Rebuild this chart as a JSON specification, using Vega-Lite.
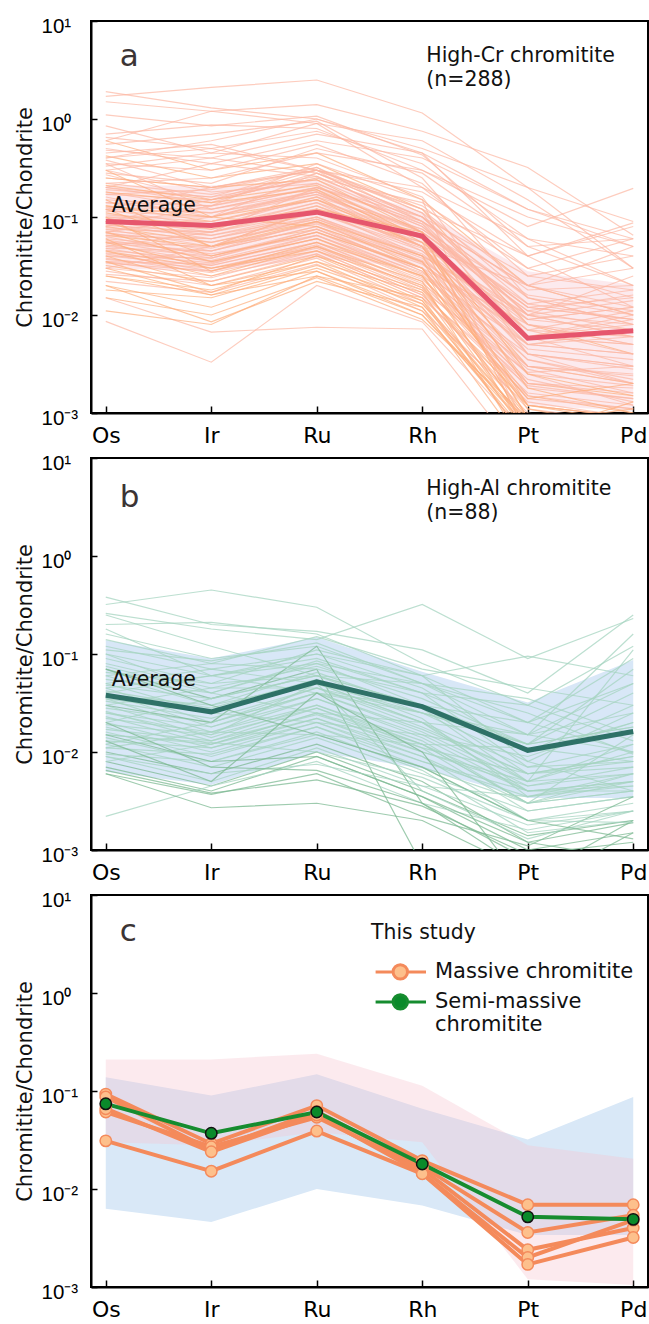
{
"$schema":"https://vega.github.io/schema/vega-lite/v6.json",
"background":"white",
"padding":{"left":13,"top":15,"right":0,"bottom":0},
"resolve":{"scale":{"color":"independent","stroke":"independent","fill":"independent"},"legend":{"color":"independent","stroke":"independent","fill":"independent"}},
"config":{
 "view":{"stroke":"#000","strokeWidth":2},
 "font":"DejaVu Sans",
 "concat":{"spacing":5},
 "axis":{"domainColor":"#000","domainWidth":2,"tickColor":"#000","tickWidth":1.5,"grid":false,"labelColor":"#000","titleColor":"#111","labelFlush":false,"labelOverlap":false},
 "axisX":{"labelFont":"DejaVu Sans","labelFontSize":22,"tickSize":-7,"labelPadding":19,"labelAngle":0,"labelBaseline":"top"},
 "axisY":{"labelFont":"Liberation Sans","labelFontSize":20.5,"tickSize":-6,"labelAlign":"left","labelPadding":56,"labelOffset":5.5,"labelBaseline":"middle","titleFont":"DejaVu Sans","titleFontSize":21,"titleFontWeight":"normal","titlePadding":6}
},
"datasets":{
 "hicr":[
{"id":1,"s":"A","Os":1.9,"Ir":1.3,"Ru":1.0,"Rh":0.45,"Pt":0.12,"Pd":0.06},
{"id":2,"s":"A","Os":1.7,"Ir":2.1,"Ru":2.5,"Rh":1.15,"Pt":0.2,"Pd":0.09},
{"id":3,"s":"A","Os":1.5,"Ir":1.2,"Ru":1.4,"Rh":0.75,"Pt":0.32,"Pd":0.065},
{"id":4,"s":"A","Os":1.1,"Ir":0.85,"Ru":1.07,"Rh":0.43,"Pt":0.05,"Pd":0.02},
{"id":5,"s":"A","Os":0.85,"Ir":0.45,"Ru":0.9,"Rh":0.2,"Pt":0.03,"Pd":0.015},
{"id":6,"s":"A","Os":0.7,"Ir":0.87,"Ru":0.8,"Rh":0.3,"Pt":0.08,"Pd":0.196},
{"id":7,"s":"A","Os":0.65,"Ir":0.5,"Ru":0.75,"Rh":0.35,"Pt":0.06,"Pd":0.04},
{"id":8,"s":"B","Os":0.6,"Ir":0.3,"Ru":0.45,"Rh":0.15,"Pt":0.02,"Pd":0.01},
{"id":9,"s":"A","Os":0.55,"Ir":0.7,"Ru":0.95,"Rh":0.25,"Pt":0.015,"Pd":0.008},
{"id":10,"s":"A","Os":0.5,"Ir":0.35,"Ru":0.6,"Rh":0.4,"Pt":0.12,"Pd":0.05},
{"id":11,"s":"A","Os":0.48,"Ir":0.4,"Ru":0.28,"Rh":0.1,"Pt":0.01,"Pd":0.006},
{"id":12,"s":"A","Os":0.45,"Ir":0.55,"Ru":0.3,"Rh":0.18,"Pt":0.04,"Pd":0.087},
{"id":13,"s":"B","Os":0.42,"Ir":0.25,"Ru":0.35,"Rh":0.12,"Pt":0.008,"Pd":0.004},
{"id":14,"s":"A","Os":0.4,"Ir":0.6,"Ru":1.0,"Rh":0.5,"Pt":0.2,"Pd":0.03},
{"id":15,"s":"A","Os":0.38,"Ir":0.2,"Ru":0.32,"Rh":0.09,"Pt":0.02,"Pd":0.012},
{"id":16,"s":"A","Os":0.35,"Ir":0.3,"Ru":0.55,"Rh":0.22,"Pt":0.025,"Pd":0.018},
{"id":17,"s":"A","Os":0.33,"Ir":0.45,"Ru":0.4,"Rh":0.16,"Pt":0.006,"Pd":0.003},
{"id":18,"s":"A","Os":0.3,"Ir":0.18,"Ru":0.22,"Rh":0.08,"Pt":0.012,"Pd":0.009},
{"id":19,"s":"A","Os":0.28,"Ir":0.22,"Ru":0.5,"Rh":0.28,"Pt":0.05,"Pd":0.06},
{"id":20,"s":"A","Os":0.27,"Ir":0.15,"Ru":0.3,"Rh":0.11,"Pt":0.004,"Pd":0.002},
{"id":21,"s":"A","Os":0.25,"Ir":0.2,"Ru":0.3,"Rh":0.12,"Pt":0.015,"Pd":0.01},
{"id":22,"s":"A","Os":0.22,"Ir":0.17,"Ru":0.26,"Rh":0.09,"Pt":0.008,"Pd":0.006},
{"id":23,"s":"A","Os":0.2,"Ir":0.14,"Ru":0.28,"Rh":0.1,"Pt":0.01,"Pd":0.008},
{"id":24,"s":"A","Os":0.19,"Ir":0.16,"Ru":0.24,"Rh":0.085,"Pt":0.006,"Pd":0.005},
{"id":25,"s":"A","Os":0.18,"Ir":0.12,"Ru":0.2,"Rh":0.07,"Pt":0.012,"Pd":0.015},
{"id":26,"s":"A","Os":0.17,"Ir":0.19,"Ru":0.3,"Rh":0.13,"Pt":0.02,"Pd":0.01},
{"id":27,"s":"A","Os":0.16,"Ir":0.1,"Ru":0.18,"Rh":0.06,"Pt":0.004,"Pd":0.003},
{"id":28,"s":"A","Os":0.15,"Ir":0.13,"Ru":0.22,"Rh":0.08,"Pt":0.009,"Pd":0.012},
{"id":29,"s":"A","Os":0.14,"Ir":0.11,"Ru":0.17,"Rh":0.065,"Pt":0.007,"Pd":0.004},
{"id":30,"s":"B","Os":0.13,"Ir":0.09,"Ru":0.16,"Rh":0.05,"Pt":0.003,"Pd":0.002},
{"id":31,"s":"A","Os":0.125,"Ir":0.12,"Ru":0.2,"Rh":0.09,"Pt":0.015,"Pd":0.008},
{"id":32,"s":"A","Os":0.12,"Ir":0.08,"Ru":0.14,"Rh":0.045,"Pt":0.005,"Pd":0.006},
{"id":33,"s":"A","Os":0.115,"Ir":0.1,"Ru":0.19,"Rh":0.07,"Pt":0.011,"Pd":0.007},
{"id":34,"s":"B","Os":0.11,"Ir":0.075,"Ru":0.13,"Rh":0.05,"Pt":0.002,"Pd":0.0015},
{"id":35,"s":"A","Os":0.105,"Ir":0.09,"Ru":0.15,"Rh":0.06,"Pt":0.006,"Pd":0.01},
{"id":36,"s":"A","Os":0.1,"Ir":0.085,"Ru":0.12,"Rh":0.04,"Pt":0.0035,"Pd":0.002},
{"id":37,"s":"A","Os":0.098,"Ir":0.07,"Ru":0.11,"Rh":0.055,"Pt":0.008,"Pd":0.005},
{"id":38,"s":"A","Os":0.095,"Ir":0.08,"Ru":0.16,"Rh":0.075,"Pt":0.012,"Pd":0.009},
{"id":39,"s":"A","Os":0.09,"Ir":0.065,"Ru":0.1,"Rh":0.035,"Pt":0.0025,"Pd":0.0012},
{"id":40,"s":"A","Os":0.088,"Ir":0.075,"Ru":0.14,"Rh":0.06,"Pt":0.005,"Pd":0.004},
{"id":41,"s":"A","Os":0.085,"Ir":0.06,"Ru":0.095,"Rh":0.04,"Pt":0.009,"Pd":0.012},
{"id":42,"s":"A","Os":0.082,"Ir":0.07,"Ru":0.12,"Rh":0.05,"Pt":0.004,"Pd":0.003},
{"id":43,"s":"B","Os":0.08,"Ir":0.055,"Ru":0.09,"Rh":0.03,"Pt":0.0015,"Pd":0.001},
{"id":44,"s":"A","Os":0.078,"Ir":0.065,"Ru":0.11,"Rh":0.045,"Pt":0.007,"Pd":0.006},
{"id":45,"s":"A","Os":0.075,"Ir":0.05,"Ru":0.085,"Rh":0.035,"Pt":0.003,"Pd":0.0025},
{"id":46,"s":"A","Os":0.072,"Ir":0.06,"Ru":0.1,"Rh":0.042,"Pt":0.006,"Pd":0.008},
{"id":47,"s":"A","Os":0.07,"Ir":0.045,"Ru":0.08,"Rh":0.028,"Pt":0.002,"Pd":0.0018},
{"id":48,"s":"A","Os":0.068,"Ir":0.055,"Ru":0.095,"Rh":0.038,"Pt":0.0045,"Pd":0.0035},
{"id":49,"s":"B","Os":0.065,"Ir":0.05,"Ru":0.075,"Rh":0.03,"Pt":0.0012,"Pd":0.0009},
{"id":50,"s":"A","Os":0.063,"Ir":0.04,"Ru":0.07,"Rh":0.026,"Pt":0.0028,"Pd":0.0016},
{"id":51,"s":"A","Os":0.06,"Ir":0.048,"Ru":0.088,"Rh":0.034,"Pt":0.005,"Pd":0.004},
{"id":52,"s":"A","Os":0.058,"Ir":0.042,"Ru":0.065,"Rh":0.024,"Pt":0.0018,"Pd":0.0014},
{"id":53,"s":"A","Os":0.056,"Ir":0.038,"Ru":0.07,"Rh":0.03,"Pt":0.0035,"Pd":0.0022},
{"id":54,"s":"A","Os":0.054,"Ir":0.045,"Ru":0.08,"Rh":0.033,"Pt":0.006,"Pd":0.005},
{"id":55,"s":"A","Os":0.052,"Ir":0.035,"Ru":0.06,"Rh":0.022,"Pt":0.0014,"Pd":0.0011},
{"id":56,"s":"A","Os":0.05,"Ir":0.04,"Ru":0.075,"Rh":0.028,"Pt":0.003,"Pd":0.002},
{"id":57,"s":"A","Os":0.048,"Ir":0.032,"Ru":0.055,"Rh":0.02,"Pt":0.0022,"Pd":0.0013},
{"id":58,"s":"A","Os":0.046,"Ir":0.036,"Ru":0.065,"Rh":0.025,"Pt":0.004,"Pd":0.0028},
{"id":59,"s":"B","Os":0.045,"Ir":0.03,"Ru":0.05,"Rh":0.019,"Pt":0.0009,"Pd":0.0007},
{"id":60,"s":"A","Os":0.043,"Ir":0.034,"Ru":0.06,"Rh":0.023,"Pt":0.0025,"Pd":0.0019},
{"id":61,"s":"A","Os":0.042,"Ir":0.028,"Ru":0.048,"Rh":0.017,"Pt":0.0016,"Pd":0.0012},
{"id":62,"s":"A","Os":0.04,"Ir":0.032,"Ru":0.055,"Rh":0.021,"Pt":0.003,"Pd":0.0024},
{"id":63,"s":"A","Os":0.038,"Ir":0.027,"Ru":0.045,"Rh":0.016,"Pt":0.0011,"Pd":0.0008},
{"id":64,"s":"A","Os":0.037,"Ir":0.03,"Ru":0.052,"Rh":0.019,"Pt":0.002,"Pd":0.0016},
{"id":65,"s":"A","Os":0.035,"Ir":0.025,"Ru":0.042,"Rh":0.015,"Pt":0.0013,"Pd":0.0009},
{"id":66,"s":"A","Os":0.034,"Ir":0.028,"Ru":0.05,"Rh":0.018,"Pt":0.0026,"Pd":0.003},
{"id":67,"s":"B","Os":0.032,"Ir":0.022,"Ru":0.04,"Rh":0.014,"Pt":0.0008,"Pd":0.0006},
{"id":68,"s":"A","Os":0.03,"Ir":0.024,"Ru":0.045,"Rh":0.016,"Pt":0.0019,"Pd":0.0014},
{"id":69,"s":"A","Os":0.028,"Ir":0.02,"Ru":0.038,"Rh":0.013,"Pt":0.001,"Pd":0.0007},
{"id":70,"s":"A","Os":0.026,"Ir":0.022,"Ru":0.042,"Rh":0.015,"Pt":0.0015,"Pd":0.0011},
{"id":71,"s":"B","Os":0.025,"Ir":0.018,"Ru":0.035,"Rh":0.012,"Pt":0.0007,"Pd":0.0005},
{"id":72,"s":"A","Os":0.022,"Ir":0.017,"Ru":0.033,"Rh":0.011,"Pt":0.0012,"Pd":0.0009},
{"id":73,"s":"A","Os":0.2,"Ir":0.16,"Ru":0.32,"Rh":0.11,"Pt":0.018,"Pd":0.02},
{"id":74,"s":"A","Os":0.17,"Ir":0.15,"Ru":0.25,"Rh":0.1,"Pt":0.013,"Pd":0.018},
{"id":75,"s":"A","Os":0.14,"Ir":0.13,"Ru":0.2,"Rh":0.085,"Pt":0.01,"Pd":0.014},
{"id":76,"s":"A","Os":0.12,"Ir":0.11,"Ru":0.18,"Rh":0.075,"Pt":0.016,"Pd":0.011},
{"id":77,"s":"A","Os":0.1,"Ir":0.1,"Ru":0.17,"Rh":0.07,"Pt":0.013,"Pd":0.009},
{"id":78,"s":"A","Os":0.09,"Ir":0.09,"Ru":0.15,"Rh":0.065,"Pt":0.011,"Pd":0.016},
{"id":79,"s":"A","Os":0.075,"Ir":0.07,"Ru":0.13,"Rh":0.055,"Pt":0.009,"Pd":0.007},
{"id":80,"s":"A","Os":0.065,"Ir":0.06,"Ru":0.11,"Rh":0.048,"Pt":0.007,"Pd":0.011},
{"id":81,"s":"A","Os":0.055,"Ir":0.05,"Ru":0.1,"Rh":0.04,"Pt":0.01,"Pd":0.006},
{"id":82,"s":"A","Os":0.048,"Ir":0.045,"Ru":0.09,"Rh":0.036,"Pt":0.006,"Pd":0.009},
{"id":83,"s":"A","Os":0.04,"Ir":0.038,"Ru":0.075,"Rh":0.03,"Pt":0.008,"Pd":0.005},
{"id":84,"s":"A","Os":0.035,"Ir":0.033,"Ru":0.065,"Rh":0.027,"Pt":0.005,"Pd":0.007},
{"id":85,"s":"B","Os":0.25,"Ir":0.2,"Ru":0.24,"Rh":0.07,"Pt":0.0025,"Pd":0.0015},
{"id":86,"s":"B","Os":0.21,"Ir":0.15,"Ru":0.21,"Rh":0.06,"Pt":0.0018,"Pd":0.001},
{"id":87,"s":"B","Os":0.18,"Ir":0.14,"Ru":0.19,"Rh":0.055,"Pt":0.0012,"Pd":0.0008},
{"id":88,"s":"B","Os":0.13,"Ir":0.1,"Ru":0.15,"Rh":0.05,"Pt":0.0009,"Pd":0.0006},
{"id":89,"s":"B","Os":0.03,"Ir":0.016,"Ru":0.025,"Rh":0.015,"Pt":0.0005,"Pd":0.0004},
{"id":90,"s":"B","Os":0.02,"Ir":0.0085,"Ru":0.022,"Rh":0.012,"Pt":0.0004,"Pd":0.0006},
{"id":91,"s":"A","Os":0.015,"Ir":0.0067,"Ru":0.0075,"Rh":0.0072,"Pt":0.0003,"Pd":0.0002},
{"id":92,"s":"A","Os":0.0086,"Ir":0.0033,"Ru":0.02,"Rh":0.0085,"Pt":0.0006,"Pd":0.0008},
{"id":93,"s":"B","Os":0.011,"Ir":0.008,"Ru":0.025,"Rh":0.01,"Pt":0.0007,"Pd":0.0005},
{"id":94,"s":"B","Os":0.018,"Ir":0.015,"Ru":0.03,"Rh":0.013,"Pt":0.0008,"Pd":0.0009},
{"id":95,"s":"B","Os":0.025,"Ir":0.016,"Ru":0.032,"Rh":0.014,"Pt":0.0005,"Pd":0.0006},
{"id":96,"s":"B","Os":0.04,"Ir":0.02,"Ru":0.035,"Rh":0.017,"Pt":0.0006,"Pd":0.0005},
{"id":97,"s":"B","Os":0.055,"Ir":0.03,"Ru":0.045,"Rh":0.02,"Pt":0.0007,"Pd":0.0004},
{"id":98,"s":"B","Os":0.07,"Ir":0.035,"Ru":0.06,"Rh":0.025,"Pt":0.0008,"Pd":0.0007},
{"id":99,"s":"B","Os":0.09,"Ir":0.04,"Ru":0.07,"Rh":0.03,"Pt":0.0006,"Pd":0.0008},
{"id":100,"s":"B","Os":0.12,"Ir":0.05,"Ru":0.09,"Rh":0.04,"Pt":0.0009,"Pd":0.0006},
{"id":101,"s":"B","Os":0.035,"Ir":0.017,"Ru":0.04,"Rh":0.018,"Pt":0.0012,"Pd":0.0009},
{"id":102,"s":"B","Os":0.045,"Ir":0.025,"Ru":0.05,"Rh":0.022,"Pt":0.0004,"Pd":0.0003},
{"id":103,"s":"B","Os":0.06,"Ir":0.02,"Ru":0.028,"Rh":0.01,"Pt":0.0008,"Pd":0.0011},
{"id":104,"s":"B","Os":0.015,"Ir":0.01,"Ru":0.024,"Rh":0.009,"Pt":0.0009,"Pd":0.0005},
{"id":105,"s":"B","Os":0.02,"Ir":0.012,"Ru":0.028,"Rh":0.011,"Pt":0.0006,"Pd":0.0004},
{"id":106,"s":"B","Os":0.1,"Ir":0.028,"Ru":0.055,"Rh":0.025,"Pt":0.0014,"Pd":0.002},
{"id":107,"s":"B","Os":0.3,"Ir":0.1,"Ru":0.08,"Rh":0.035,"Pt":0.0011,"Pd":0.0007},
{"id":108,"s":"A","Os":0.4,"Ir":0.5,"Ru":0.3,"Rh":0.07,"Pt":0.0007,"Pd":0.0004},
{"id":109,"s":"A","Os":0.08,"Ir":0.13,"Ru":0.35,"Rh":0.15,"Pt":0.0005,"Pd":0.0009},
{"id":110,"s":"B","Os":0.15,"Ir":0.05,"Ru":0.12,"Rh":0.07,"Pt":0.0006,"Pd":0.0013},
{"id":111,"s":"A","Os":0.22,"Ir":0.25,"Ru":0.45,"Rh":0.3,"Pt":0.1,"Pd":0.05},
{"id":112,"s":"A","Os":0.3,"Ir":0.4,"Ru":0.7,"Rh":0.45,"Pt":0.04,"Pd":0.08},
{"id":113,"s":"A","Os":0.12,"Ir":0.2,"Ru":0.3,"Rh":0.2,"Pt":0.06,"Pd":0.02},
{"id":114,"s":"A","Os":0.09,"Ir":0.15,"Ru":0.25,"Rh":0.14,"Pt":0.03,"Pd":0.06},
{"id":115,"s":"A","Os":0.6,"Ir":1.2,"Ru":0.9,"Rh":0.6,"Pt":0.15,"Pd":0.03},
{"id":116,"s":"A","Os":0.05,"Ir":0.07,"Ru":0.2,"Rh":0.1,"Pt":0.025,"Pd":0.04},
{"id":117,"s":"A","Os":0.07,"Ir":0.1,"Ru":0.28,"Rh":0.12,"Pt":0.04,"Pd":0.012},
{"id":118,"s":"A","Os":0.03,"Ir":0.05,"Ru":0.12,"Rh":0.05,"Pt":0.02,"Pd":0.03},
{"id":119,"s":"A","Os":0.2,"Ir":0.35,"Ru":0.26,"Rh":0.09,"Pt":0.02,"Pd":0.05},
{"id":120,"s":"A","Os":0.35,"Ir":0.12,"Ru":0.18,"Rh":0.05,"Pt":0.01,"Pd":0.025}
 ],
 "hial":[
{"id":1,"s":"A","Os":0.38,"Ir":0.2,"Ru":0.17,"Rh":0.11,"Pt":0.04,"Pd":0.25},
{"id":2,"s":"A","Os":0.32,"Ir":0.45,"Ru":0.3,"Rh":0.08,"Pt":0.03,"Pd":0.12},
{"id":3,"s":"A","Os":0.26,"Ir":0.18,"Ru":0.14,"Rh":0.32,"Pt":0.09,"Pd":0.23},
{"id":4,"s":"A","Os":0.2,"Ir":0.21,"Ru":0.16,"Rh":0.06,"Pt":0.02,"Pd":0.05},
{"id":5,"s":"A","Os":0.16,"Ir":0.09,"Ru":0.12,"Rh":0.05,"Pt":0.015,"Pd":0.16},
{"id":6,"s":"A","Os":0.14,"Ir":0.08,"Ru":0.15,"Rh":0.07,"Pt":0.045,"Pd":0.03},
{"id":7,"s":"A","Os":0.12,"Ir":0.07,"Ru":0.1,"Rh":0.045,"Pt":0.01,"Pd":0.02},
{"id":8,"s":"A","Os":0.11,"Ir":0.085,"Ru":0.13,"Rh":0.05,"Pt":0.02,"Pd":0.09},
{"id":9,"s":"A","Os":0.1,"Ir":0.06,"Ru":0.09,"Rh":0.04,"Pt":0.007,"Pd":0.012},
{"id":10,"s":"A","Os":0.09,"Ir":0.05,"Ru":0.11,"Rh":0.06,"Pt":0.095,"Pd":0.06},
{"id":11,"s":"A","Os":0.08,"Ir":0.045,"Ru":0.075,"Rh":0.035,"Pt":0.012,"Pd":0.04},
{"id":12,"s":"A","Os":0.075,"Ir":0.04,"Ru":0.08,"Rh":0.03,"Pt":0.006,"Pd":0.008},
{"id":13,"s":"B","Os":0.07,"Ir":0.035,"Ru":0.07,"Rh":0.0007,"Pt":0.0005,"Pd":0.002},
{"id":14,"s":"A","Os":0.065,"Ir":0.05,"Ru":0.06,"Rh":0.025,"Pt":0.008,"Pd":0.025},
{"id":15,"s":"A","Os":0.06,"Ir":0.03,"Ru":0.065,"Rh":0.028,"Pt":0.005,"Pd":0.006},
{"id":16,"s":"A","Os":0.055,"Ir":0.04,"Ru":0.085,"Rh":0.04,"Pt":0.015,"Pd":0.01},
{"id":17,"s":"A","Os":0.05,"Ir":0.025,"Ru":0.05,"Rh":0.02,"Pt":0.004,"Pd":0.0045},
{"id":18,"s":"A","Os":0.048,"Ir":0.035,"Ru":0.06,"Rh":0.03,"Pt":0.01,"Pd":0.03},
{"id":19,"s":"A","Os":0.045,"Ir":0.02,"Ru":0.045,"Rh":0.018,"Pt":0.006,"Pd":0.009},
{"id":20,"s":"A","Os":0.042,"Ir":0.028,"Ru":0.055,"Rh":0.022,"Pt":0.0035,"Pd":0.005},
{"id":21,"s":"A","Os":0.04,"Ir":0.018,"Ru":0.04,"Rh":0.016,"Pt":0.005,"Pd":0.012},
{"id":22,"s":"A","Os":0.038,"Ir":0.03,"Ru":0.05,"Rh":0.025,"Pt":0.012,"Pd":0.018},
{"id":23,"s":"A","Os":0.035,"Ir":0.016,"Ru":0.035,"Rh":0.014,"Pt":0.004,"Pd":0.004},
{"id":24,"s":"A","Os":0.033,"Ir":0.022,"Ru":0.045,"Rh":0.02,"Pt":0.007,"Pd":0.008},
{"id":25,"s":"A","Os":0.03,"Ir":0.014,"Ru":0.03,"Rh":0.012,"Pt":0.003,"Pd":0.005},
{"id":26,"s":"A","Os":0.028,"Ir":0.02,"Ru":0.04,"Rh":0.017,"Pt":0.006,"Pd":0.007},
{"id":27,"s":"A","Os":0.026,"Ir":0.013,"Ru":0.028,"Rh":0.011,"Pt":0.0025,"Pd":0.0035},
{"id":28,"s":"A","Os":0.025,"Ir":0.018,"Ru":0.035,"Rh":0.015,"Pt":0.0045,"Pd":0.006},
{"id":29,"s":"A","Os":0.023,"Ir":0.012,"Ru":0.025,"Rh":0.01,"Pt":0.005,"Pd":0.01},
{"id":30,"s":"A","Os":0.022,"Ir":0.016,"Ru":0.03,"Rh":0.013,"Pt":0.003,"Pd":0.004},
{"id":31,"s":"A","Os":0.02,"Ir":0.011,"Ru":0.022,"Rh":0.009,"Pt":0.002,"Pd":0.003},
{"id":32,"s":"A","Os":0.019,"Ir":0.015,"Ru":0.028,"Rh":0.012,"Pt":0.004,"Pd":0.005},
{"id":33,"s":"A","Os":0.018,"Ir":0.01,"Ru":0.02,"Rh":0.008,"Pt":0.0035,"Pd":0.006},
{"id":34,"s":"A","Os":0.017,"Ir":0.013,"Ru":0.024,"Rh":0.011,"Pt":0.006,"Pd":0.009},
{"id":35,"s":"A","Os":0.016,"Ir":0.009,"Ru":0.018,"Rh":0.007,"Pt":0.002,"Pd":0.0025},
{"id":36,"s":"A","Os":0.015,"Ir":0.012,"Ru":0.022,"Rh":0.01,"Pt":0.0045,"Pd":0.007},
{"id":37,"s":"A","Os":0.014,"Ir":0.008,"Ru":0.016,"Rh":0.0065,"Pt":0.0015,"Pd":0.002},
{"id":38,"s":"A","Os":0.013,"Ir":0.011,"Ru":0.02,"Rh":0.009,"Pt":0.003,"Pd":0.004},
{"id":39,"s":"A","Os":0.012,"Ir":0.007,"Ru":0.014,"Rh":0.006,"Pt":0.0025,"Pd":0.0035},
{"id":40,"s":"A","Os":0.011,"Ir":0.0095,"Ru":0.018,"Rh":0.008,"Pt":0.004,"Pd":0.005},
{"id":41,"s":"B","Os":0.01,"Ir":0.006,"Ru":0.012,"Rh":0.005,"Pt":0.0012,"Pd":0.0019},
{"id":42,"s":"A","Os":0.0095,"Ir":0.008,"Ru":0.015,"Rh":0.007,"Pt":0.003,"Pd":0.006},
{"id":43,"s":"A","Os":0.009,"Ir":0.005,"Ru":0.011,"Rh":0.0045,"Pt":0.0018,"Pd":0.0025},
{"id":44,"s":"B","Os":0.008,"Ir":0.0045,"Ru":0.01,"Rh":0.004,"Pt":0.0014,"Pd":0.002},
{"id":45,"s":"B","Os":0.007,"Ir":0.004,"Ru":0.009,"Rh":0.0035,"Pt":0.001,"Pd":0.0015},
{"id":46,"s":"B","Os":0.0065,"Ir":0.0038,"Ru":0.0052,"Rh":0.0028,"Pt":0.0009,"Pd":0.0012},
{"id":47,"s":"B","Os":0.006,"Ir":0.0037,"Ru":0.006,"Rh":0.0022,"Pt":0.0011,"Pd":0.0035},
{"id":48,"s":"A","Os":0.0022,"Ir":0.0045,"Ru":0.008,"Rh":0.003,"Pt":0.0016,"Pd":0.0025},
{"id":49,"s":"B","Os":0.006,"Ir":0.0027,"Ru":0.003,"Rh":0.002,"Pt":0.0006,"Pd":0.0004},
{"id":50,"s":"B","Os":0.03,"Ir":0.02,"Ru":0.12,"Rh":0.003,"Pt":0.0008,"Pd":0.0005},
{"id":51,"s":"A","Os":0.025,"Ir":0.015,"Ru":0.05,"Rh":0.004,"Pt":0.0013,"Pd":0.0025},
{"id":52,"s":"A","Os":0.015,"Ir":0.0125,"Ru":0.01,"Rh":0.0055,"Pt":0.002,"Pd":0.0019},
{"id":53,"s":"A","Os":0.04,"Ir":0.06,"Ru":0.08,"Rh":0.05,"Pt":0.025,"Pd":0.0095},
{"id":54,"s":"A","Os":0.06,"Ir":0.08,"Ru":0.07,"Rh":0.04,"Pt":0.03,"Pd":0.013},
{"id":55,"s":"A","Os":0.012,"Ir":0.02,"Ru":0.04,"Rh":0.03,"Pt":0.02,"Pd":0.01},
{"id":56,"s":"A","Os":0.02,"Ir":0.035,"Ru":0.06,"Rh":0.05,"Pt":0.035,"Pd":0.015},
{"id":57,"s":"A","Os":0.05,"Ir":0.07,"Ru":0.05,"Rh":0.02,"Pt":0.005,"Pd":0.11},
{"id":58,"s":"A","Os":0.03,"Ir":0.045,"Ru":0.045,"Rh":0.025,"Pt":0.012,"Pd":0.07},
{"id":59,"s":"A","Os":0.008,"Ir":0.012,"Ru":0.025,"Rh":0.02,"Pt":0.015,"Pd":0.05},
{"id":60,"s":"B","Os":0.07,"Ir":0.03,"Ru":0.015,"Rh":0.007,"Pt":0.002,"Pd":0.0013},
{"id":61,"s":"A","Os":0.1,"Ir":0.04,"Ru":0.025,"Rh":0.012,"Pt":0.003,"Pd":0.015},
{"id":62,"s":"B","Os":0.015,"Ir":0.008,"Ru":0.009,"Rh":0.0035,"Pt":0.0012,"Pd":0.0008},
{"id":63,"s":"A","Os":0.045,"Ir":0.06,"Ru":0.1,"Rh":0.06,"Pt":0.008,"Pd":0.004},
{"id":64,"s":"A","Os":0.035,"Ir":0.025,"Ru":0.02,"Rh":0.015,"Pt":0.009,"Pd":0.02},
{"id":65,"s":"A","Os":0.25,"Ir":0.12,"Ru":0.06,"Rh":0.03,"Pt":0.012,"Pd":0.018},
{"id":66,"s":"A","Os":0.18,"Ir":0.06,"Ru":0.04,"Rh":0.025,"Pt":0.015,"Pd":0.025},
{"id":67,"s":"A","Os":0.011,"Ir":0.016,"Ru":0.015,"Rh":0.012,"Pt":0.011,"Pd":0.008},
{"id":68,"s":"A","Os":0.009,"Ir":0.006,"Ru":0.0075,"Rh":0.0045,"Pt":0.0035,"Pd":0.0045},
{"id":69,"s":"B","Os":0.02,"Ir":0.007,"Ru":0.0065,"Rh":0.003,"Pt":0.0006,"Pd":0.0009},
{"id":70,"s":"B","Os":0.013,"Ir":0.005,"Ru":0.04,"Rh":0.01,"Pt":0.0004,"Pd":0.0015}
 ],
 "avg":[
{"p":"a","el":"Os","v":0.09},{"p":"a","el":"Ir","v":0.082},{"p":"a","el":"Ru","v":0.112},{"p":"a","el":"Rh","v":0.064},{"p":"a","el":"Pt","v":0.0058},{"p":"a","el":"Pd","v":0.0069},
{"p":"b","el":"Os","v":0.038},{"p":"b","el":"Ir","v":0.0257},{"p":"b","el":"Ru","v":0.052},{"p":"b","el":"Rh","v":0.029},{"p":"b","el":"Pt","v":0.0104},{"p":"b","el":"Pd","v":0.0162}
 ],
 "bands":[
{"b":"High-Cr","el":"Os","lo":0.03,"hi":0.21},{"b":"High-Cr","el":"Ir","lo":0.028,"hi":0.21},{"b":"High-Cr","el":"Ru","lo":0.038,"hi":0.24},{"b":"High-Cr","el":"Rh","lo":0.03,"hi":0.113},{"b":"High-Cr","el":"Pt","lo":0.0012,"hi":0.028},{"b":"High-Cr","el":"Pd","lo":0.00105,"hi":0.0203},
{"b":"High-Al","el":"Os","lo":0.0063,"hi":0.138},{"b":"High-Al","el":"Ir","lo":0.0046,"hi":0.09},{"b":"High-Al","el":"Ru","lo":0.01,"hi":0.148},{"b":"High-Al","el":"Rh","lo":0.0068,"hi":0.066},{"b":"High-Al","el":"Pt","lo":0.0034,"hi":0.032},{"b":"High-Al","el":"Pd","lo":0.0034,"hi":0.087}
 ],
 "study":[
{"id":"M1","type":"Massive chromitite","Os":0.093,"Ir":0.029,"Ru":0.071,"Rh":0.0195,"Pt":0.0069,"Pd":0.0069},
{"id":"M2","type":"Massive chromitite","Os":0.087,"Ir":0.025,"Ru":0.062,"Rh":0.017,"Pt":0.0036,"Pd":0.0054},
{"id":"M3","type":"Massive chromitite","Os":0.061,"Ir":0.027,"Ru":0.054,"Rh":0.016,"Pt":0.0024,"Pd":0.004},
{"id":"M4","type":"Massive chromitite","Os":0.066,"Ir":0.024,"Ru":0.057,"Rh":0.0145,"Pt":0.002,"Pd":0.0048},
{"id":"M5","type":"Massive chromitite","Os":0.031,"Ir":0.0152,"Ru":0.039,"Rh":0.0143,"Pt":0.0017,"Pd":0.0032},
{"id":"S1","type":"Semi-massive chromitite","Os":0.074,"Ir":0.037,"Ru":0.061,"Rh":0.018,"Pt":0.0052,"Pd":0.0049}
 ],
 "one":[{}]
},
"vconcat":[
 {
  "width":557,"height":392,
  "layer":[
   {"data":{"name":"bands"},"transform":[{"filter":{"field":"b","equal":"High-Cr"}}],
    "mark":{"type":"area","color":"#f7c4cf","opacity":0.35},
    "encoding":{"x":{"field":"el","type":"ordinal","sort":["Os","Ir","Ru","Rh","Pt","Pd"],"scale":{"type":"point","domain":["Os","Ir","Ru","Rh","Pt","Pd"],"padding":0.14},"axis":{"title":null}},
     "y":{"field":"hi","type":"quantitative","scale":{"type":"log","domain":[0.001,10]},"axis":{"title":"Chromitite/Chondrite","values":[0.001,0.01,0.1,1,10],"labelExpr":"datum.value > 5 ? '10¹' : datum.value > 0.5 ? '10⁰' : datum.value > 0.05 ? '10⁻¹' : datum.value > 0.005 ? '10⁻²' : '10⁻³'"}},"y2":{"field":"lo"}}},
   {"data":{"name":"hicr"},"transform":[{"fold":["Os","Ir","Ru","Rh","Pt","Pd"],"as":["el","v"]}],
    "mark":{"type":"line","strokeWidth":1.2,"opacity":0.7,"clip":true},
    "encoding":{"x":{"field":"el","type":"ordinal","sort":["Os","Ir","Ru","Rh","Pt","Pd"]},
     "y":{"field":"v","type":"quantitative"},
     "detail":{"field":"id"},
     "color":{"field":"s","type":"nominal","scale":{"domain":["A","B"],"range":["#fcb6a2","#fdae7c"]},"legend":null}}},
   {"data":{"name":"avg"},"transform":[{"filter":{"field":"p","equal":"a"}}],
    "mark":{"type":"line","color":"#e6566d","strokeWidth":5},
    "encoding":{"x":{"field":"el","type":"ordinal","sort":["Os","Ir","Ru","Rh","Pt","Pd"]},"y":{"field":"v","type":"quantitative"}}},
   {"data":{"name":"one"},"mark":{"type":"text","text":"a","fontSize":31,"color":"#3b3434","align":"left","baseline":"alphabetic","dx":14},
    "encoding":{"x":{"datum":"Os","type":"ordinal"},"y":{"datum":3.46,"type":"quantitative"}}},
   {"data":{"name":"one"},"mark":{"type":"text","text":["High-Cr chromitite","(n=288)"],"fontSize":20.5,"lineHeight":23.5,"color":"#111","align":"left","baseline":"alphabetic","dx":4},
    "encoding":{"x":{"datum":"Rh","type":"ordinal"},"y":{"datum":3.8,"type":"quantitative"}}},
   {"data":{"name":"one"},"mark":{"type":"text","text":"Average","fontSize":20.5,"color":"#111","align":"left","baseline":"alphabetic","dx":6},
    "encoding":{"x":{"datum":"Os","type":"ordinal"},"y":{"datum":0.1135,"type":"quantitative"}}}
  ]
 },
 {
  "width":557,"height":392,
  "layer":[
   {"data":{"name":"bands"},"transform":[{"filter":{"field":"b","equal":"High-Al"}}],
    "mark":{"type":"area","color":"#d8e7f7","opacity":1},
    "encoding":{"x":{"field":"el","type":"ordinal","sort":["Os","Ir","Ru","Rh","Pt","Pd"],"scale":{"type":"point","domain":["Os","Ir","Ru","Rh","Pt","Pd"],"padding":0.14},"axis":{"title":null}},
     "y":{"field":"hi","type":"quantitative","scale":{"type":"log","domain":[0.001,10]},"axis":{"title":"Chromitite/Chondrite","values":[0.001,0.01,0.1,1,10],"labelExpr":"datum.value > 5 ? '10¹' : datum.value > 0.5 ? '10⁰' : datum.value > 0.05 ? '10⁻¹' : datum.value > 0.005 ? '10⁻²' : '10⁻³'"}},"y2":{"field":"lo"}}},
   {"data":{"name":"hial"},"transform":[{"fold":["Os","Ir","Ru","Rh","Pt","Pd"],"as":["el","v"]}],
    "mark":{"type":"line","strokeWidth":1.2,"opacity":0.75,"clip":true},
    "encoding":{"x":{"field":"el","type":"ordinal","sort":["Os","Ir","Ru","Rh","Pt","Pd"]},
     "y":{"field":"v","type":"quantitative"},
     "detail":{"field":"id"},
     "color":{"field":"s","type":"nominal","scale":{"domain":["A","B"],"range":["#a5d4c0","#7dba93"]},"legend":null}}},
   {"data":{"name":"avg"},"transform":[{"filter":{"field":"p","equal":"b"}}],
    "mark":{"type":"line","color":"#2e7167","strokeWidth":5},
    "encoding":{"x":{"field":"el","type":"ordinal","sort":["Os","Ir","Ru","Rh","Pt","Pd"]},"y":{"field":"v","type":"quantitative"}}},
   {"data":{"name":"one"},"mark":{"type":"text","text":"b","fontSize":31,"color":"#3b3434","align":"left","baseline":"alphabetic","dx":14},
    "encoding":{"x":{"datum":"Os","type":"ordinal"},"y":{"datum":3.15,"type":"quantitative"}}},
   {"data":{"name":"one"},"mark":{"type":"text","text":["High-Al chromitite","(n=88)"],"fontSize":20.5,"lineHeight":24,"color":"#111","align":"left","baseline":"alphabetic","dx":4},
    "encoding":{"x":{"datum":"Rh","type":"ordinal"},"y":{"datum":4.23,"type":"quantitative"}}},
   {"data":{"name":"one"},"mark":{"type":"text","text":"Average","fontSize":20.5,"color":"#111","align":"left","baseline":"alphabetic","dx":6},
    "encoding":{"x":{"datum":"Os","type":"ordinal"},"y":{"datum":0.0473,"type":"quantitative"}}}
  ]
 },
 {
  "width":557,"height":392,
  "layer":[
   {"data":{"name":"bands"},"transform":[{"filter":{"field":"b","equal":"High-Al"}}],
    "mark":{"type":"area","color":"#d9e8f7","opacity":1},
    "encoding":{"x":{"field":"el","type":"ordinal","sort":["Os","Ir","Ru","Rh","Pt","Pd"],"scale":{"type":"point","domain":["Os","Ir","Ru","Rh","Pt","Pd"],"padding":0.14},"axis":{"title":null}},
     "y":{"field":"hi","type":"quantitative","scale":{"type":"log","domain":[0.001,10]},"axis":{"title":"Chromitite/Chondrite","values":[0.001,0.01,0.1,1,10],"labelExpr":"datum.value > 5 ? '10¹' : datum.value > 0.5 ? '10⁰' : datum.value > 0.05 ? '10⁻¹' : datum.value > 0.005 ? '10⁻²' : '10⁻³'"}},"y2":{"field":"lo"}}},
   {"data":{"name":"bands"},"transform":[{"filter":{"field":"b","equal":"High-Cr"}}],
    "mark":{"type":"area","color":"#f7c4cf","opacity":0.35},
    "encoding":{"x":{"field":"el","type":"ordinal","sort":["Os","Ir","Ru","Rh","Pt","Pd"]},
     "y":{"field":"hi","type":"quantitative"},"y2":{"field":"lo"}}},
   {"data":{"name":"study"},"transform":[{"filter":{"field":"type","equal":"Massive chromitite"}},{"fold":["Os","Ir","Ru","Rh","Pt","Pd"],"as":["el","v"]}],
    "mark":{"type":"line","strokeWidth":4},
    "encoding":{"x":{"field":"el","type":"ordinal","sort":["Os","Ir","Ru","Rh","Pt","Pd"]},
     "y":{"field":"v","type":"quantitative"},
     "detail":{"field":"id"},
     "stroke":{"field":"type","type":"nominal","scale":{"domain":["Massive chromitite","Semi-massive chromitite"],"range":["#f48a5b","#168c2f"]},
       "legend":{"orient":"none","legendX":280,"legendY":28,"title":"This study","titleFont":"DejaVu Sans","titleFontSize":20.4,"titleFontWeight":"normal","titleColor":"#111","titlePadding":17,"labelFont":"DejaVu Sans","labelFontSize":21,"labelColor":"#111","labelLimit":400,"symbolType":"M-0.69,0L1.06,0M2.5,0L4.35,0M2.5,0A0.72,0.72,0,1,1,1.06,0A0.72,0.72,0,1,1,2.5,0Z","symbolSize":400,"symbolStrokeWidth":3,"labelOffset":41,"rowPadding":3,"labelExpr":"datum.label == 'Semi-massive chromitite' ? ['Semi-massive','chromitite'] : datum.label"}}}},
   {"data":{"name":"study"},"transform":[{"filter":{"field":"type","equal":"Semi-massive chromitite"}},{"fold":["Os","Ir","Ru","Rh","Pt","Pd"],"as":["el","v"]}],
    "mark":{"type":"line","strokeWidth":4},
    "encoding":{"x":{"field":"el","type":"ordinal","sort":["Os","Ir","Ru","Rh","Pt","Pd"]},
     "y":{"field":"v","type":"quantitative"},
     "detail":{"field":"id"},
     "stroke":{"field":"type","type":"nominal"}}},
   {"data":{"name":"study"},"transform":[{"fold":["Os","Ir","Ru","Rh","Pt","Pd"],"as":["el","v"]}],
    "mark":{"type":"point","filled":true,"opacity":1,"size":130,"strokeWidth":1.5},
    "encoding":{"x":{"field":"el","type":"ordinal","sort":["Os","Ir","Ru","Rh","Pt","Pd"]},
     "y":{"field":"v","type":"quantitative"},
     "order":{"field":"id"},
     "fill":{"field":"type","type":"nominal","scale":{"domain":["Massive chromitite","Semi-massive chromitite"],"range":["#fdc08c","#0a8a2a"]},
       "legend":{"orient":"none","legendX":280,"legendY":28,"title":"This study","titleFont":"DejaVu Sans","titleFontSize":20.4,"titleFontWeight":"normal","titleColor":"#111","titlePadding":17,"labelFont":"DejaVu Sans","labelFontSize":21,"labelColor":"#111","labelLimit":400,"symbolType":"M-0.69,0L1.06,0M2.5,0L4.35,0M2.5,0A0.72,0.72,0,1,1,1.06,0A0.72,0.72,0,1,1,2.5,0Z","symbolSize":400,"symbolStrokeWidth":3,"labelOffset":41,"rowPadding":3,"labelExpr":"datum.label == 'Semi-massive chromitite' ? ['Semi-massive','chromitite'] : datum.label"}},
     "stroke":{"condition":{"test":"datum.type == 'Semi-massive chromitite'","value":"#111"},"value":"#f48a5b"}}},
   {"data":{"name":"one"},"mark":{"type":"text","text":"c","fontSize":31,"color":"#3b3434","align":"left","baseline":"alphabetic","dx":14},
    "encoding":{"x":{"datum":"Os","type":"ordinal"},"y":{"datum":3.4,"type":"quantitative"}}}
  ]
 }
]
}
